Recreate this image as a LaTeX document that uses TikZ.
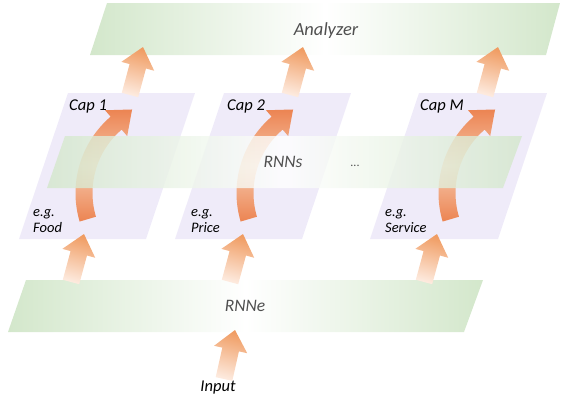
\documentclass[tikz,border=0pt]{standalone}
\usepackage{fontspec}
\setmainfont{Carlito}
\usetikzlibrary{calc}

\definecolor{lgreen}{RGB}{211,231,203}
\definecolor{capfill}{RGB}{239,235,249}
\definecolor{arrowhead}{RGB}{240,156,98}
\definecolor{arrowtail}{RGB}{253,234,222}
\definecolor{bendorange}{RGB}{236,132,82}
\definecolor{bendlight}{RGB}{246,200,172}
\definecolor{labelgray}{RGB}{80,80,80}

\newcommand\fatarrow[2]{%
  \coordinate (fa-b) at ($(#2)!20pt!(#1)$);
  \shade[flowfill] ($(#1)!8.5pt!90:(#2)$) -- ($(fa-b)!8.5pt!-90:(#1)$)
    -- ($(fa-b)!17pt!-90:(#1)$) -- (#2) -- ($(fa-b)!17pt!90:(#1)$)
    -- ($(fa-b)!8.5pt!90:(#1)$) -- ($(#1)!8.5pt!-90:(#2)$) -- cycle;}

\newcommand\bendarrow[1]{%
  \shade[bendfill] ($(#1)+(163.5:100.5)$) arc[start angle=163.5,end angle=229.4,radius=100.5]
    -- ($(#1)+(229.4:109)$) -- ($(#1)+(229.4:92)+(319.4:21)$)
    -- ($(#1)+(229.4:75)$) -- ($(#1)+(229.4:83.5)$)
    arc[start angle=229.4,end angle=163.5,radius=83.5] -- cycle;}

\begin{document}
\begin{tikzpicture}[x=1pt,y=-1pt,
  bandfill/.style={left color=lgreen,right color=lgreen,middle color=white},
  capbox/.style={fill=capfill},
  flowfill/.style={top color=arrowhead,bottom color=arrowtail,shading angle=-15},
  bendfill/.style={top color=bendorange,bottom color=bendorange,middle color=bendlight},
  layername/.style={inner sep=0,text=labelgray,font=\itshape\fontsize{17.5}{20}\selectfont},
  capname/.style={inner sep=0,anchor=west,font=\itshape\fontsize{16.5}{19}\selectfont},
  examplelabel/.style={inner sep=0,anchor=west,align=left,font=\itshape\fontsize{14.5}{16}\selectfont}]
\useasboundingbox (0,0) rectangle (561,402);

\shade[bandfill] (107,3) -- (560,3) -- (546,55) -- (90,55) -- cycle;

\fill[capbox] (68,93) -- (195,93) -- (146,239) -- (19,239) -- cycle;
\fill[capbox] (224,93) -- (351,93) -- (302,239) -- (175,239) -- cycle;
\fill[capbox] (419,93) -- (547,93) -- (498,239) -- (370,239) -- cycle;

\bendarrow{176,193}
\bendarrow{337,193}
\bendarrow{539,193}

\shade[bandfill,fill opacity=0.8] (65,136) -- (522,136) -- (503,188) -- (47,188) -- cycle;
\shade[bandfill] (26,280) -- (483,280) -- (464,332) -- (8,332) -- cycle;

\node[layername,font=\itshape\fontsize{18.5}{21}\selectfont] (analyzer) at (326,31) {Analyzer};
\node[layername] (rnns) at (283,162) {RNNs};
\node[layername] (rnne) at (245,306) {RNNe};
\node[inner sep=0,text=labelgray,font=\fontsize{12}{14}\selectfont] (dots) at (355,166) {...};

\node[capname] (cap1) at (69,106) {Cap 1};
\node[capname] (cap2) at (227,106) {Cap 2};
\node[capname] (capm) at (420,106) {Cap M};

\node[examplelabel] (food) at (33,221) {e.g.\\Food};
\node[examplelabel] (price) at (191,221) {e.g.\\Price};
\node[examplelabel] (service) at (385,221) {e.g.\\Service};

\node[inner sep=0,font=\itshape\fontsize{16.5}{19}\selectfont] (input) at (218,388) {Input};

\coordinate (in-tail) at (224,379);
\coordinate (in-tip) at (235,330);
\coordinate (e1-tail) at (71,282);
\coordinate (e1-tip) at (84,234);
\coordinate (e2-tail) at (230,282);
\coordinate (e2-tip) at (243,234);
\coordinate (em-tail) at (424,282);
\coordinate (em-tip) at (437,234);
\coordinate (a1-tail) at (130,95);
\coordinate (a1-tip) at (143,47);
\coordinate (a2-tail) at (290,95);
\coordinate (a2-tip) at (303,47);
\coordinate (am-tail) at (485,95);
\coordinate (am-tip) at (498,47);

\fatarrow{in-tail}{in-tip}
\fatarrow{e1-tail}{e1-tip}
\fatarrow{e2-tail}{e2-tip}
\fatarrow{em-tail}{em-tip}
\fatarrow{a1-tail}{a1-tip}
\fatarrow{a2-tail}{a2-tip}
\fatarrow{am-tail}{am-tip}
\end{tikzpicture}
\end{document}
